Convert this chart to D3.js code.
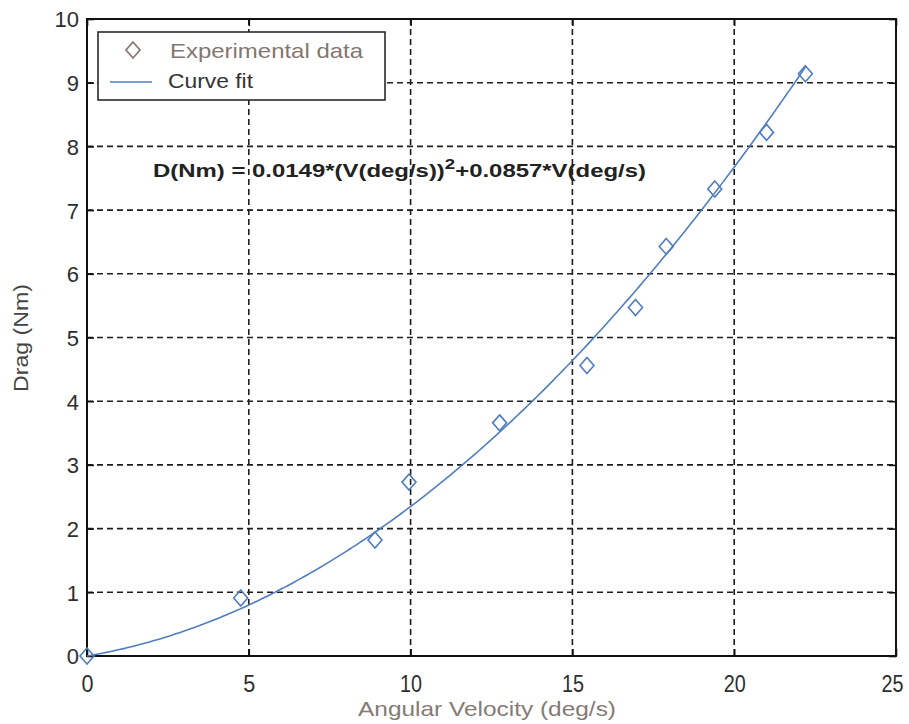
<!DOCTYPE html>
<html>
<head>
<meta charset="utf-8">
<script src="https://cdn.jsdelivr.net/npm/d3@7"></script>
<style>
  html, body { margin: 0; padding: 0; background: #fff; }
  svg { display: block; font-family: "Liberation Sans", Arial, sans-serif; }
</style>
</head>
<body>
<svg id="chart" width="909" height="724"></svg>
<script>
// Measured drag against angular velocity
const velocity = [0, 4.75, 8.9, 9.95, 12.75, 15.45, 16.95, 17.9, 19.4, 21.0, 22.2];
const drag     = [0, 0.91, 1.82, 2.73, 3.66, 4.56, 5.47, 6.43, 7.33, 8.22, 9.14];

// Quadratic fit D = a*V^2 + b*V, as given in the equation label
const fitCoefficients = [0.0149, 0.0857];
const fitRange = [0, 22.2];

const xTicks = [0, 5, 10, 15, 20, 25];
const yTicks = [0, 1, 2, 3, 4, 5, 6, 7, 8, 9, 10];
const legendLabels = ["Experimental data", "Curve fit"];

const svg = d3.select("#chart");
const x = d3.scaleLinear().domain([0, 25]).range([87, 896]);
const y = d3.scaleLinear().domain([0, 10]).range([656, 19]);

const blue = "#4f7dbf";
const ink = "#2e2e2e";

// grid
const grid = svg.append("g").attr("stroke", "#1e1e1e").attr("stroke-width", 1.6)
  .attr("stroke-dasharray", "6,4");
grid.selectAll("line.v").data(xTicks.slice(1, -1)).join("line").attr("class", "v")
  .attr("x1", d => x(d)).attr("x2", d => x(d)).attr("y1", y(10)).attr("y2", y(0));
grid.selectAll("line.h").data(yTicks.slice(1, -1)).join("line").attr("class", "h")
  .attr("y1", d => y(d)).attr("y2", d => y(d)).attr("x1", x(0)).attr("x2", x(25));

// axes (ticks inward, labels outside)
const xAxis = d3.axisBottom(x).tickValues(xTicks).tickSize(-7).tickFormat(d3.format("d"));
const yAxis = d3.axisLeft(y).tickValues(yTicks).tickSize(-7).tickFormat(d3.format("d"));
const gx = svg.append("g").attr("transform", `translate(0,${y(0)})`).call(xAxis);
const gy = svg.append("g").attr("transform", `translate(${x(0)},0)`).call(yAxis);
const gxTop = svg.append("g").attr("transform", `translate(0,${y(10)})`)
  .call(d3.axisTop(x).tickValues(xTicks).tickSize(-7).tickFormat(""));
const gyRight = svg.append("g").attr("transform", `translate(${x(25)},0)`)
  .call(d3.axisRight(y).tickValues(yTicks).tickSize(-7).tickFormat(""));
[gx, gy, gxTop, gyRight].forEach(g => {
  g.select(".domain").remove();
  g.selectAll(".tick line").attr("stroke", "#111").attr("stroke-width", 1.6);
});
gx.selectAll(".tick text").attr("fill", ink).attr("font-size", 24)
  .attr("dy", 0).attr("y", 36).attr("textLength", d => d >= 10 ? 22 : 12)
  .attr("lengthAdjust", "spacingAndGlyphs")
  .attr("x", d => d === 25 ? -4 : 0);
gy.selectAll(".tick text").attr("fill", ink).attr("font-size", 22)
  .attr("x", -8).attr("dy", "0.36em");

// frame
svg.append("rect").attr("x", x(0)).attr("y", y(10))
  .attr("width", x(25) - x(0)).attr("height", y(0) - y(10))
  .attr("fill", "none").attr("stroke", "#111").attr("stroke-width", 2);

// fitted curve
const fitX = d3.range(fitRange[0], fitRange[1] + 1e-9, 0.1);
const fitLine = d3.line()
  .x(v => x(v))
  .y(v => y(fitCoefficients[0] * v * v + fitCoefficients[1] * v));
svg.append("path").datum(fitX).attr("d", fitLine)
  .attr("fill", "none").attr("stroke", blue).attr("stroke-width", 1.6);

// data markers
const diamond = (cx, cy) => `M${cx},${cy - 8}L${cx + 7},${cy}L${cx},${cy + 8}L${cx - 7},${cy}Z`;
svg.append("g").selectAll("path").data(velocity).join("path")
  .attr("d", (v, i) => diamond(x(v), y(drag[i])))
  .attr("fill", "none").attr("stroke", blue).attr("stroke-width", 1.6);

// equation
const eq = svg.append("text").attr("x", 153).attr("y", 177)
  .attr("font-size", 18).attr("font-weight", "bold").attr("fill", "#222")
  .attr("textLength", 493).attr("lengthAdjust", "spacingAndGlyphs");
eq.append("tspan").text(`D(Nm) = ${fitCoefficients[0]}*(V(deg/s))`);
eq.append("tspan").attr("dy", -8).attr("font-size", 14).text("2");
eq.append("tspan").attr("dy", 8).text(`+${fitCoefficients[1]}*V(deg/s)`);

// legend
const lg = svg.append("g");
lg.append("rect").attr("x", 98).attr("y", 32).attr("width", 287).attr("height", 68)
  .attr("fill", "#fff").attr("stroke", "#2a2a2a").attr("stroke-width", 1.6);
lg.append("path").attr("d", diamond(133, 50))
  .attr("fill", "none").attr("stroke", "#8a7a72").attr("stroke-width", 1.8);
lg.append("line").attr("x1", 110).attr("x2", 152).attr("y1", 82).attr("y2", 82)
  .attr("stroke", blue).attr("stroke-width", 1.6);
lg.append("text").attr("x", 170).attr("y", 58).attr("font-size", 21)
  .attr("fill", "#857670").attr("textLength", 193).attr("lengthAdjust", "spacingAndGlyphs")
  .text(legendLabels[0]);
lg.append("text").attr("x", 168).attr("y", 88).attr("font-size", 21)
  .attr("fill", "#333").attr("textLength", 85).attr("lengthAdjust", "spacingAndGlyphs")
  .text(legendLabels[1]);

// axis titles
svg.append("text").attr("x", 487).attr("y", 716).attr("text-anchor", "middle")
  .attr("font-size", 21).attr("fill", "#857a75")
  .attr("textLength", 258).attr("lengthAdjust", "spacingAndGlyphs")
  .text("Angular Velocity (deg/s)");
svg.append("text").attr("transform", "translate(28,338) rotate(-90)")
  .attr("text-anchor", "middle").attr("font-size", 20).attr("fill", "#444")
  .attr("textLength", 108).attr("lengthAdjust", "spacingAndGlyphs")
  .text("Drag (Nm)");
</script>
</body>
</html>
